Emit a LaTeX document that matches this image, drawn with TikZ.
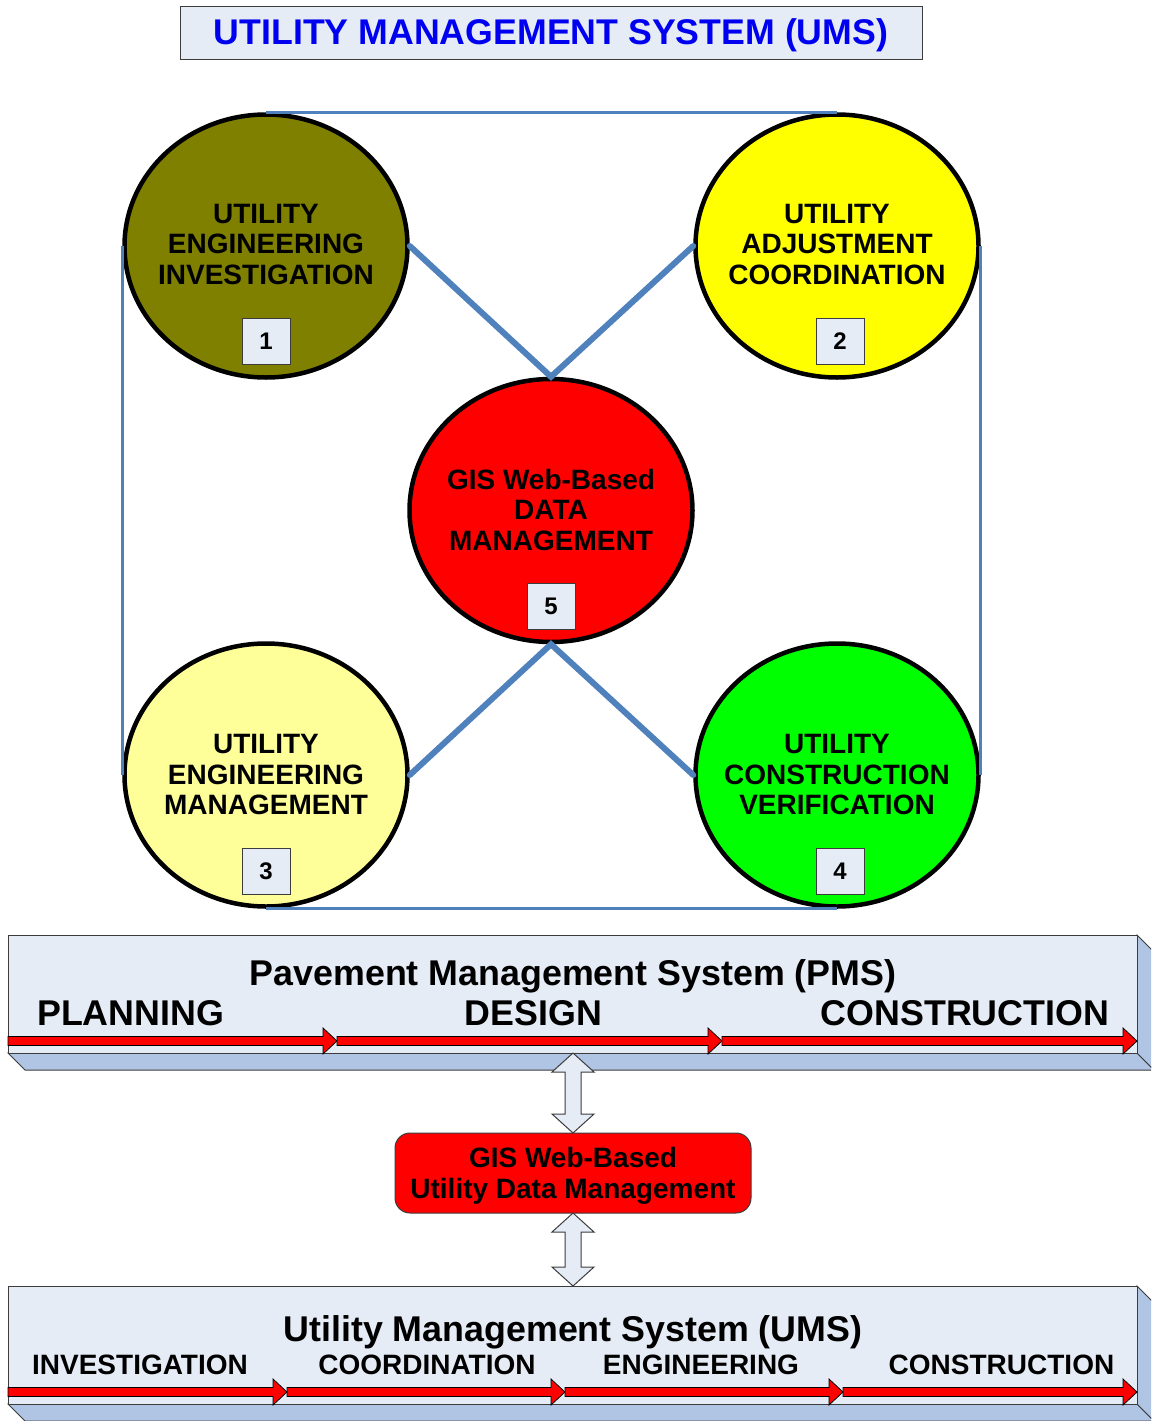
\documentclass[tikz,border=0pt]{standalone}
\usepackage{fontspec}
\setmainfont{Liberation Sans}
\usetikzlibrary{shapes.geometric}
\definecolor{barfill}{RGB}{230,236,246}
\definecolor{barside}{RGB}{176,197,227}
\definecolor{linkblue}{RGB}{79,129,189}
\definecolor{edgegray}{RGB}{60,60,60}
\definecolor{olivec}{RGB}{128,128,0}
\definecolor{yellowc}{RGB}{255,255,0}
\definecolor{paleyc}{RGB}{255,255,153}
\definecolor{greenc}{RGB}{0,255,0}
\definecolor{redc}{RGB}{255,0,0}
\definecolor{titleblue}{RGB}{0,0,240}
\newcommand\redarr[3]{%
  \filldraw[fill=redc,draw=black,line width=0.8pt,line join=miter]
   (#1,{#3-4.5}) -- ({#2-14},{#3-4.5}) -- ({#2-14},{#3-13}) -- (#2,#3)
   -- ({#2-14},{#3+13}) -- ({#2-14},{#3+4.5}) -- (#1,{#3+4.5}) -- cycle;}
\newcommand\dblarr[3]{%
  \filldraw[fill=barfill,draw=edgegray,line width=1pt]
   (#1,#2) -- ({#1+21},{#2+19}) -- ({#1+8},{#2+19}) -- ({#1+8},{#3-19})
   -- ({#1+21},{#3-19}) -- (#1,#3) -- ({#1-21},{#3-19}) -- ({#1-8},{#3-19})
   -- ({#1-8},{#2+19}) -- ({#1-21},{#2+19}) -- cycle;}
\newcommand\barsolid[4]{% x1 y1 x2 y2
  \filldraw[fill=barside,draw=edgegray,line width=1pt]
   (#1,#4) -- ({#1+17},{#4+17}) -- ({#3+17},{#4+17}) -- (#3,#4) -- cycle;
  \filldraw[fill=barside,draw=edgegray,line width=1pt]
   (#3,#2) -- ({#3+17},{#2+17}) -- ({#3+17},{#4+17}) -- (#3,#4) -- cycle;}
\begin{document}
\begin{tikzpicture}[x=1pt,y=-1pt,
  ell/.style={ellipse,draw=black,line width=4.5pt,minimum width=283pt,minimum height=263pt,inner sep=0pt},
  ctext/.style={align=center,font=\fontsize{28}{30.5}\selectfont\bfseries,inner sep=0pt},
  numbox/.style={draw=edgegray,fill=barfill,line width=1pt,minimum width=48pt,minimum height=46pt,inner sep=0pt,font=\fontsize{24}{24}\selectfont\bfseries},
  xlink/.style={draw=linkblue,line width=6pt},
  rlink/.style={draw=linkblue,line width=3pt},
  barbox/.style={draw=edgegray,fill=barfill,line width=1pt,inner sep=0pt},
  bighead/.style={anchor=base,inner sep=0pt,font=\fontsize{35.8}{35.8}\selectfont\bfseries},
  smalllab/.style={anchor=base,inner sep=0pt,font=\fontsize{28}{28}\selectfont\bfseries}]
\useasboundingbox (0,0) rectangle (1151,1421);
\clip (0,0) rectangle (1151,1421);
\fill[white] (0,0) rectangle (1151,1421);

% title
\node[draw=edgegray,fill=barfill,line width=1pt,minimum width=742pt,minimum height=53pt,inner sep=0pt] (title) at (551,33.5) {};
\node[anchor=base,inner sep=0pt,text=titleblue,font=\fontsize{35.7}{35.7}\selectfont\bfseries] (titletext) at (551,44.5) {UTILITY MANAGEMENT SYSTEM (UMS)};

% circles
\node[ell,fill=olivec]  (c1) at (266,246) {};
\node[ell,fill=yellowc] (c2) at (837,246) {};
\node[ell,fill=paleyc]  (c3) at (266,775) {};
\node[ell,fill=greenc]  (c4) at (837,775) {};
\node[ell,fill=redc]    (c5) at (551,510.5) {};

\node[ctext] (t1) at (266,244.5) {UTILITY\\ENGINEERING\\INVESTIGATION};
\node[ctext] (t2) at (837,244.5) {UTILITY\\ADJUSTMENT\\COORDINATION};
\node[ctext] (t3) at (266,774.5) {UTILITY\\ENGINEERING\\MANAGEMENT};
\node[ctext] (t4) at (837,774.5) {UTILITY\\CONSTRUCTION\\VERIFICATION};
\node[ctext] (t5) at (551,509.5) {GIS Web-Based\\DATA\\MANAGEMENT};

\node[numbox] (n1) at (266,341.5) {1};
\node[numbox] (n2) at (840,341.5) {2};
\node[numbox] (n3) at (266,871.5) {3};
\node[numbox] (n4) at (840,871.5) {4};
\node[numbox] (n5) at (551,606.5) {5};

% links
\draw[rlink] (c1.north) -- (c2.north);
\draw[rlink] (c3.south) -- (c4.south);
\draw[rlink] (c1.west) -- (c3.west);
\draw[rlink] (c2.east) -- (c4.east);
\draw[xlink,line cap=round,line join=miter] (c1.east) -- (c5.north) -- (c2.west);
\draw[xlink,line cap=round,line join=miter] (c3.east) -- (c5.south) -- (c4.west);

% PMS bar
\barsolid{8}{935}{1137}{1053}
\node[barbox,minimum width=1129pt,minimum height=118pt] (pms) at (572.5,994) {};
\node[bighead] (pmshead) at (573,985.5) {Pavement Management System (PMS)};
\node[bighead,anchor=base west] (plan) at (37,1025.5) {PLANNING};
\node[bighead] (design) at (533.5,1025.5) {DESIGN};
\node[bighead] (constr) at (965,1025.5) {CONSTRUCTION};
\redarr{8}{337}{1041}
\redarr{337}{722}{1041}
\redarr{722}{1137}{1041}

% GIS box
\node[draw=edgegray,fill=redc,line width=1pt,rounded corners=15pt,minimum width=356pt,minimum height=80pt,inner sep=0pt] (gis) at (573,1173) {};
\node[anchor=base,inner sep=0pt,font=\fontsize{28}{28}\selectfont\bfseries] (gis1) at (573,1167) {GIS Web-Based};
\node[anchor=base,inner sep=0pt,font=\fontsize{28}{28}\selectfont\bfseries] (gis2) at (573,1198) {Utility Data Management};

\dblarr{573}{1053}{1133}

% UMS bar
\barsolid{8}{1286}{1137}{1404}
\node[barbox,minimum width=1129pt,minimum height=118pt] (ums) at (572.5,1345) {};
\node[bighead] (umshead) at (573,1341.5) {Utility Management System (UMS)};
\node[smalllab] (inv) at (140,1374.5) {INVESTIGATION};
\node[smalllab] (coo) at (427,1374.5) {COORDINATION};
\node[smalllab] (eng) at (701,1374.5) {ENGINEERING};
\node[smalllab] (con) at (1001.5,1374.5) {CONSTRUCTION};
\redarr{8}{287}{1392}
\redarr{287}{565}{1392}
\redarr{565}{843}{1392}
\redarr{843}{1137}{1392}

\dblarr{573}{1213}{1286}
\end{tikzpicture}
\end{document}
